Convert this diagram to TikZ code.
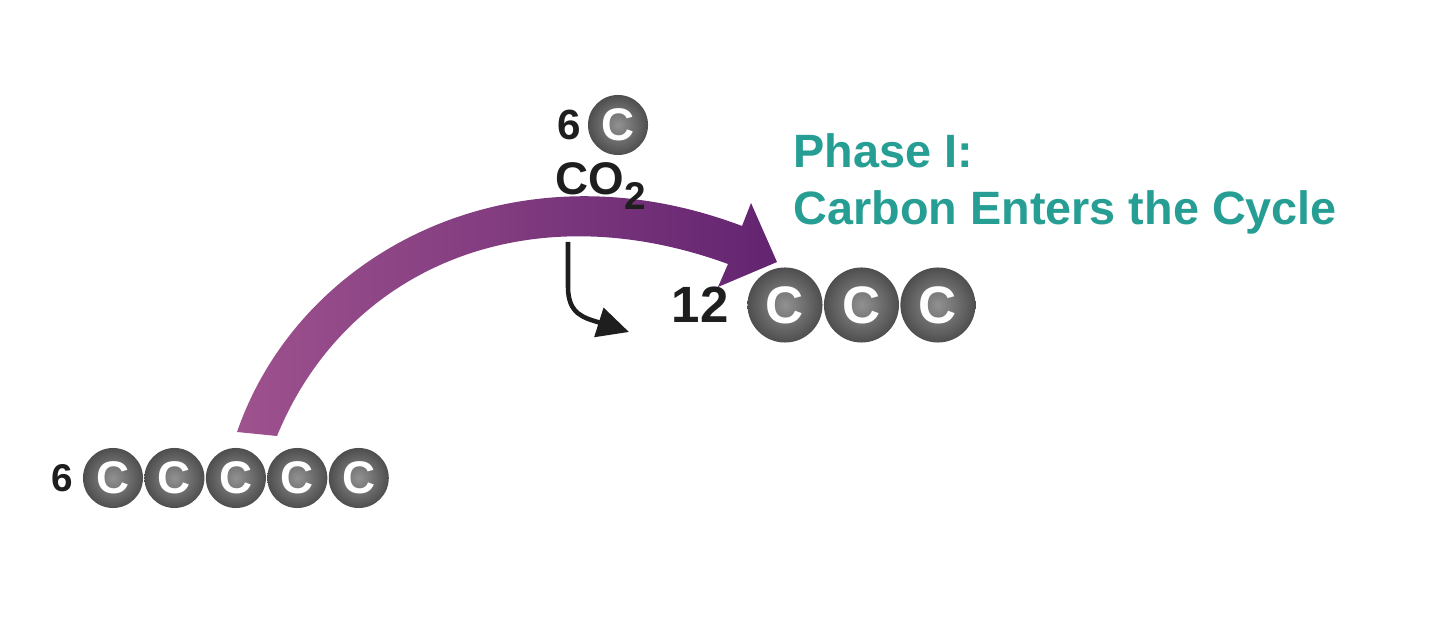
\documentclass[tikz,border=0pt]{standalone}
\usepackage{fontspec}
\setmainfont{Liberation Sans}
\usetikzlibrary{arrows.meta, positioning}
\definecolor{cycleteal}{RGB}{38,158,148}
\definecolor{bandlight}{RGB}{158,82,142}
\definecolor{banddark}{RGB}{99,36,112}
\definecolor{carbonrim}{RGB}{78,78,78}
\definecolor{carboncore}{RGB}{145,145,145}
\definecolor{inkblack}{RGB}{30,30,30}

\begin{document}
\begin{tikzpicture}[x=0.01cm, y=-0.01cm,
  carbon/.style={circle, inner sep=0pt, minimum size=0.6cm, inner color=carboncore, outer color=carbonrim, text=white, font=\bfseries\fontsize{13}{13}\selectfont},
  bigcarbon/.style={carbon, minimum size=0.75cm, font=\bfseries\fontsize{15}{15}\selectfont},
  count/.style={inner sep=0pt, text=inkblack, font=\bfseries\fontsize{11}{11}\selectfont}]
  \useasboundingbox (0,0) rectangle (1440,622);

  % Purple band arrow
  \shade[left color=bandlight, right color=banddark]
    (237,432) .. controls (300,250) and (515,140) .. (742,226)
    -- (751,203) -- (777,262) -- (718,287) -- (728,264)
    .. controls (525,190) and (345,270) .. (277,436) -- cycle;

  % Incoming CO2
  \node[carbon] (co2c) at (618,125) {C};
  \node[count, font=\bfseries\fontsize{12}{12}\selectfont, left=1.5pt of co2c] (co2n) {6};
  \node[count, anchor=base, font=\bfseries\fontsize{13}{13}\selectfont] (co2) at (601,195) {CO\raisebox{-4pt}{\fontsize{11}{11}\selectfont 2}};

  % Starting molecules
  \node[carbon] (b1) at (113,478) {C};
  \node[carbon, right=0pt of b1] (b2) {C};
  \node[carbon, right=0pt of b2] (b3) {C};
  \node[carbon, right=0pt of b3] (b4) {C};
  \node[carbon, right=0pt of b4] (b5) {C};
  \node[count, left=2.5pt of b1] (bn) {6};

  % Product molecules
  \node[bigcarbon] (t1) at (785,305) {C};
  \node[bigcarbon, right=0pt of t1] (t2) {C};
  \node[bigcarbon, right=0pt of t2] (t3) {C};
  \node[count, font=\bfseries\fontsize{14.5}{14.5}\selectfont, left=5pt of t1] (tn) {12};

  % Fixation arrow
  \coordinate (fixstart) at (568,242);
  \coordinate (fixend) at (629,332);
  \draw[inkblack, line width=1.3pt, -{Triangle[length=9pt, width=8.5pt]}]
    (fixstart) -- ++(0,45) .. controls +(0,28) and (585,318) .. (fixend);

  % Title
  \node[anchor=north west, inner sep=0pt, align=left, text=cycleteal,
    font=\bfseries\fontsize{13.3}{16.2}\selectfont] (title) at (793,133)
    {Phase I:\\Carbon Enters the Cycle};
\end{tikzpicture}
\end{document}
